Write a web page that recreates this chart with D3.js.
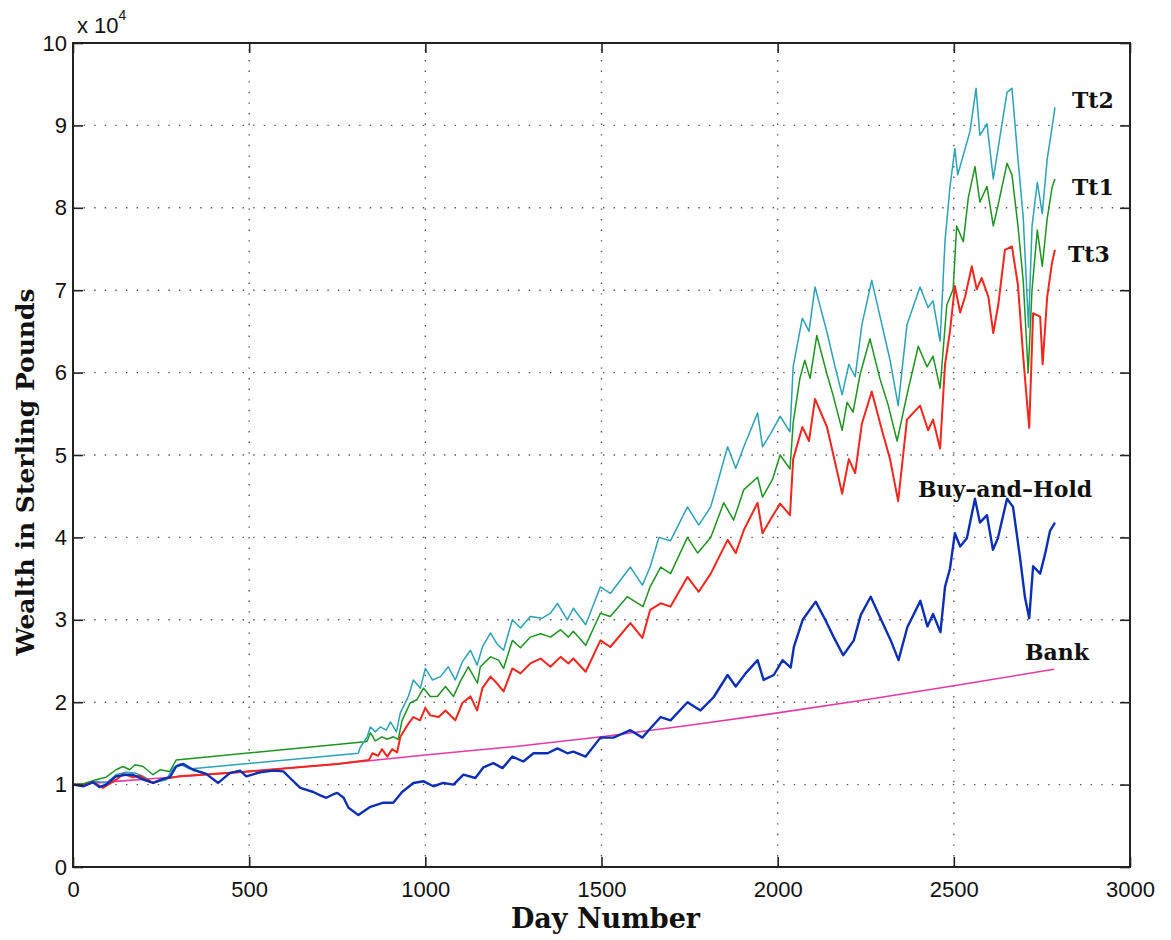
<!DOCTYPE html>
<html>
<head>
<meta charset="utf-8">
<script src="https://cdn.jsdelivr.net/npm/d3@7/dist/d3.min.js"></script>
<style>
  html, body { margin: 0; padding: 0; background: #fff; }
  svg { display: block; }
  .tick text { font-family: "Liberation Sans", Arial, sans-serif; font-size: 22px; fill: #111; }
  .lbl { font-family: "DejaVu Serif", "Liberation Serif", serif; font-weight: bold; fill: #111; }
</style>
</head>
<body>
<svg id="chart" width="1171" height="940"></svg>
<script>
// Wealth in units of 10^4 pounds, sampled along the trading-day axis.
const daysBH = [0,30,57,75,94,122,150,170,200,227,250,275,293,313,341,378,412,445,474,492,531,568,597,616,645,682,702,719,738,750,768,782,810,844,881,909,934,966,995,1023,1051,1080,1108,1142,1165,1193,1219,1247,1278,1307,1347,1375,1403,1420,1455,1497,1534,1582,1616,1634,1668,1696,1744,1781,1818,1858,1881,1909,1943,1960,1989,2014,2037,2046,2071,2108,2135,2159,2186,2216,2236,2264,2296,2321,2343,2368,2405,2425,2441,2462,2475,2489,2503,2518,2537,2560,2574,2594,2611,2625,2651,2668,2688,2702,2714,2725,2745,2759,2773,2787];
const buyAndHold = [1.00,0.98,1.03,0.97,1.00,1.10,1.12,1.12,1.06,1.02,1.06,1.09,1.22,1.25,1.18,1.13,1.02,1.14,1.17,1.10,1.15,1.17,1.16,1.08,0.96,0.91,0.87,0.84,0.88,0.90,0.84,0.72,0.63,0.73,0.78,0.78,0.91,1.02,1.04,0.98,1.02,1.00,1.12,1.08,1.21,1.26,1.20,1.34,1.28,1.38,1.38,1.44,1.38,1.40,1.34,1.57,1.57,1.66,1.57,1.66,1.82,1.78,2.00,1.90,2.06,2.33,2.19,2.35,2.51,2.27,2.33,2.51,2.42,2.67,3.00,3.22,3.00,2.79,2.57,2.75,3.06,3.28,2.98,2.75,2.51,2.91,3.23,2.92,3.07,2.85,3.40,3.62,4.05,3.89,3.99,4.47,4.18,4.27,3.85,3.99,4.47,4.37,3.75,3.27,3.02,3.65,3.56,3.80,4.08,4.18];

const daysTt1 = [0,30,65,94,122,142,161,176,199,227,247,275,293,829,835,844,858,877,892,909,923,934,957,976,995,1014,1034,1057,1080,1099,1122,1148,1156,1185,1208,1222,1247,1270,1298,1327,1355,1384,1406,1420,1455,1497,1525,1573,1618,1638,1668,1696,1744,1773,1810,1847,1875,1904,1943,1957,1985,2007,2035,2044,2063,2077,2092,2111,2140,2157,2183,2197,2214,2234,2262,2290,2314,2339,2367,2399,2424,2441,2461,2480,2498,2508,2527,2541,2560,2574,2594,2612,2625,2651,2665,2682,2697,2711,2722,2737,2751,2765,2779,2787];
const tt1 = [1.00,1.01,1.06,1.09,1.18,1.22,1.18,1.24,1.22,1.12,1.18,1.16,1.30,1.52,1.53,1.63,1.53,1.58,1.55,1.58,1.55,1.78,1.99,2.03,2.17,2.07,2.07,2.19,2.07,2.25,2.43,2.23,2.43,2.55,2.51,2.41,2.75,2.66,2.79,2.83,2.79,2.88,2.79,2.86,2.69,3.08,3.04,3.28,3.16,3.40,3.64,3.56,4.00,3.81,4.00,4.42,4.21,4.58,4.73,4.49,4.70,5.00,4.83,5.39,5.93,6.15,5.93,6.45,5.98,5.73,5.30,5.64,5.52,5.98,6.41,5.93,5.60,5.17,5.73,6.32,6.07,6.20,5.81,6.82,7.01,7.78,7.59,8.12,8.50,8.07,8.26,7.78,8.02,8.54,8.40,7.78,7.11,6.00,7.01,7.73,7.29,7.87,8.25,8.35];

const daysTt2 = [0,30,65,94,122,150,176,200,227,265,284,303,330,810,815,835,844,858,872,889,901,918,929,952,966,986,1000,1020,1043,1065,1085,1105,1128,1147,1162,1185,1203,1222,1247,1270,1298,1332,1355,1375,1403,1420,1455,1497,1525,1582,1616,1638,1663,1696,1744,1776,1810,1858,1881,1904,1943,1957,1980,2007,2035,2044,2070,2089,2106,2140,2163,2183,2202,2220,2239,2267,2296,2319,2342,2367,2404,2427,2441,2461,2475,2489,2503,2511,2527,2546,2563,2574,2594,2612,2630,2651,2665,2682,2697,2712,2722,2737,2751,2765,2779,2787];
const tt2 = [1.00,0.99,1.04,1.02,1.12,1.15,1.14,1.10,1.02,1.06,1.20,1.25,1.19,1.38,1.45,1.58,1.70,1.64,1.70,1.66,1.76,1.64,1.87,2.07,2.27,2.17,2.41,2.27,2.31,2.43,2.27,2.49,2.63,2.45,2.67,2.84,2.71,2.63,3.00,2.90,3.04,3.02,3.08,3.20,3.00,3.14,2.94,3.40,3.32,3.64,3.42,3.64,4.00,3.96,4.37,4.15,4.37,5.10,4.84,5.10,5.51,5.10,5.26,5.47,5.28,6.07,6.66,6.50,7.04,6.49,6.07,5.73,6.10,5.95,6.58,7.12,6.58,6.15,5.60,6.58,7.04,6.79,6.87,6.38,7.60,8.25,8.72,8.40,8.64,8.93,9.45,8.88,9.02,8.35,8.84,9.40,9.45,8.59,7.88,6.55,7.78,8.31,7.93,8.59,8.98,9.22];

const daysTt3 = [0,30,57,85,123,142,170,189,227,256,275,300,500,750,840,850,866,877,892,906,920,929,952,966,985,1000,1014,1038,1057,1085,1105,1128,1147,1162,1185,1203,1222,1247,1270,1298,1327,1355,1384,1406,1420,1455,1497,1525,1582,1616,1638,1668,1696,1744,1776,1810,1858,1881,1904,1943,1957,1980,2007,2035,2044,2070,2089,2106,2140,2163,2183,2202,2220,2239,2267,2296,2319,2342,2367,2404,2427,2441,2461,2475,2489,2503,2518,2532,2551,2565,2579,2598,2612,2626,2645,2665,2682,2697,2708,2714,2725,2745,2752,2765,2779,2787];
const tt3 = [1.00,0.99,1.03,0.96,1.06,1.13,1.09,1.11,1.02,1.07,1.08,1.10,1.16,1.25,1.30,1.38,1.35,1.43,1.34,1.43,1.39,1.58,1.74,1.82,1.78,1.93,1.84,1.82,1.90,1.78,1.99,2.07,1.90,2.17,2.31,2.23,2.13,2.41,2.35,2.47,2.53,2.43,2.55,2.47,2.53,2.37,2.75,2.67,2.96,2.78,3.12,3.20,3.16,3.52,3.34,3.56,3.97,3.81,4.09,4.42,4.05,4.22,4.41,4.27,4.95,5.34,5.17,5.68,5.34,4.91,4.53,4.95,4.78,5.38,5.77,5.30,4.95,4.44,5.43,5.60,5.30,5.43,5.08,6.10,6.50,7.05,6.73,6.92,7.29,7.01,7.15,6.92,6.48,6.82,7.49,7.53,7.06,6.19,5.62,5.33,6.72,6.68,6.10,6.92,7.34,7.49];

const daysBank = [0,250,500,750,1000,1250,1500,1750,2000,2250,2500,2785];
const bank = [1.00,1.08,1.16,1.25,1.36,1.46,1.58,1.72,1.87,2.03,2.20,2.40];

const xTicks = [0,500,1000,1500,2000,2500,3000];
const yTicks = [0,1,2,3,4,5,6,7,8,9,10];

const svg = d3.select("#chart");
const plotLeft = 73, plotRight = 1130, plotTop = 43, plotBottom = 867;

const x = d3.scaleLinear().domain([0, 3000]).range([plotLeft, plotRight]);
const y = d3.scaleLinear().domain([0, 10]).range([plotBottom, plotTop]);

// Dotted grid
const grid = svg.append("g").attr("stroke", "#555").attr("stroke-width", 1.4)
  .attr("stroke-dasharray", "1.4 9.2").attr("fill", "none");
grid.selectAll(".gx").data(xTicks.slice(1, -1)).join("line")
  .attr("x1", d => x(d)).attr("x2", d => x(d)).attr("y1", plotBottom).attr("y2", plotTop);
grid.selectAll(".gy").data(yTicks.slice(1, -1)).join("line")
  .attr("y1", d => y(d)).attr("y2", d => y(d)).attr("x1", plotLeft).attr("x2", plotRight);

// Series
const series = [
  { name: "Bank", days: daysBank, vals: bank, color: "#e43aa6", width: 1.6, curve: d3.curveMonotoneX },
  { name: "Tt1", days: daysTt1, vals: tt1, color: "#1c951f", width: 1.5, curve: d3.curveLinear },
  { name: "Tt2", days: daysTt2, vals: tt2, color: "#2aa2b8", width: 1.5, curve: d3.curveLinear },
  { name: "Tt3", days: daysTt3, vals: tt3, color: "#f2261c", width: 2.0, curve: d3.curveLinear },
  { name: "Buy-and-Hold", days: daysBH, vals: buyAndHold, color: "#0c2fb6", width: 2.4, curve: d3.curveLinear }
];

series.forEach(s => {
  const n = Math.min(s.days.length, s.vals.length);
  const pts = d3.range(n).map(i => [s.days[i], s.vals[i]]);
  svg.append("path")
    .datum(pts)
    .attr("fill", "none")
    .attr("stroke", s.color)
    .attr("stroke-width", s.width)
    .attr("stroke-linejoin", "round")
    .attr("d", d3.line().x(d => x(d[0])).y(d => y(d[1])).curve(s.curve));
});

// Axes with inward ticks on all four sides
const axB = svg.append("g").attr("transform", `translate(0,${plotBottom})`)
  .call(d3.axisBottom(x).tickValues(xTicks).tickFormat(d3.format("d")).tickSizeInner(-10).tickSizeOuter(0).tickPadding(14));
const axL = svg.append("g").attr("transform", `translate(${plotLeft},0)`)
  .call(d3.axisLeft(y).tickValues(yTicks).tickFormat(d3.format("d")).tickSizeInner(-10).tickSizeOuter(0).tickPadding(6));
const axT = svg.append("g").attr("transform", `translate(0,${plotTop})`)
  .call(d3.axisTop(x).tickValues(xTicks).tickFormat("").tickSizeInner(-10).tickSizeOuter(0));
const axR = svg.append("g").attr("transform", `translate(${plotRight},0)`)
  .call(d3.axisRight(y).tickValues(yTicks).tickFormat("").tickSizeInner(-10).tickSizeOuter(0));
[axB, axL, axT, axR].forEach(a => {
  a.select(".domain").remove();
  a.selectAll(".tick line").attr("stroke", "#222").attr("stroke-width", 1.6);
});

// Frame
svg.append("rect").attr("x", plotLeft).attr("y", plotTop)
  .attr("width", plotRight - plotLeft).attr("height", plotBottom - plotTop)
  .attr("fill", "none").attr("stroke", "#222").attr("stroke-width", 2);

// Exponent note
const ex = svg.append("text").attr("x", 77).attr("y", 33)
  .attr("font-family", "Liberation Sans, Arial, sans-serif").attr("font-size", 22).attr("fill", "#111");
ex.append("tspan").text("x 10");
ex.append("tspan").attr("font-size", 14).attr("dy", -13).text("4");

// Axis titles
svg.append("text").attr("class", "lbl").attr("x", (plotLeft + plotRight) / 2 + 4).attr("y", 928)
  .attr("text-anchor", "middle").attr("font-size", 27).text("Day Number");
svg.append("text").attr("class", "lbl")
  .attr("transform", `translate(34,${(plotTop + plotBottom) / 2 + 17}) rotate(-90)`)
  .attr("text-anchor", "middle").attr("font-size", 25).text("Wealth in Sterling Pounds");

// Series labels
const labels = [
  { text: "Tt2", x: 1072, y: 108 },
  { text: "Tt1", x: 1072, y: 195 },
  { text: "Tt3", x: 1068, y: 262 },
  { text: "Buy–and–Hold", x: 918, y: 497 },
  { text: "Bank", x: 1025, y: 660 }
];
svg.selectAll(".slbl").data(labels).join("text")
  .attr("class", "lbl").attr("font-size", 22)
  .attr("x", d => d.x).attr("y", d => d.y).text(d => d.text);
</script>
</body>
</html>
